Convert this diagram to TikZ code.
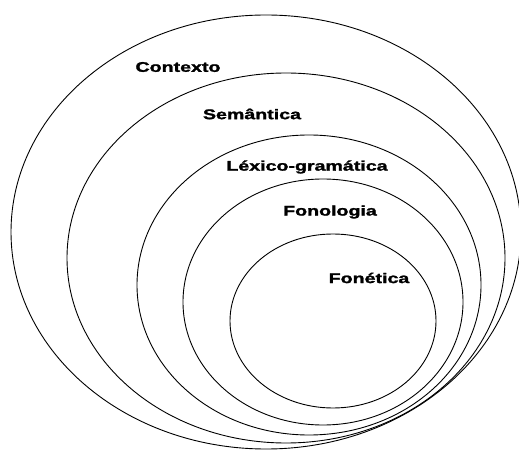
\documentclass[tikz,border=0pt]{standalone}
\usepackage{fontspec}
\setmainfont{Liberation Sans}
\newfontfamily\heavyfont[FakeBold=1.5]{Liberation Sans Bold}
\usetikzlibrary{positioning}

\begin{document}
\begin{tikzpicture}[
  x=1pt, y=1pt,
  ring/.style={draw=black, line width=0.9pt},
  lvl/.style={font=\fontsize{14}{14}\selectfont\heavyfont, inner sep=0pt,
    xscale=1.4, transform shape}]

  \useasboundingbox (0,0) rectangle (519,450);

  % nested strata
  \draw[ring] (266,218) ellipse [x radius=255, y radius=217];
  \draw[ring] (286,192) ellipse [x radius=219, y radius=185];
  \draw[ring] (309,165) ellipse [x radius=172, y radius=150];
  \draw[ring] (323,148) ellipse [x radius=140, y radius=123];
  \draw[ring] (333,129) ellipse [x radius=103, y radius=87];

  \node[lvl] (ctx) at (178,383) {Contexto};
  \node[lvl] (sem) at (252,336) {Semântica};
  \node[lvl] (lex) at (307,283) {Léxico-gramática};
  \node[lvl] (fonol) at (330,238) {Fonologia};
  \node[lvl] (fonet) at (369,172) {Fonética};
\end{tikzpicture}
\end{document}
